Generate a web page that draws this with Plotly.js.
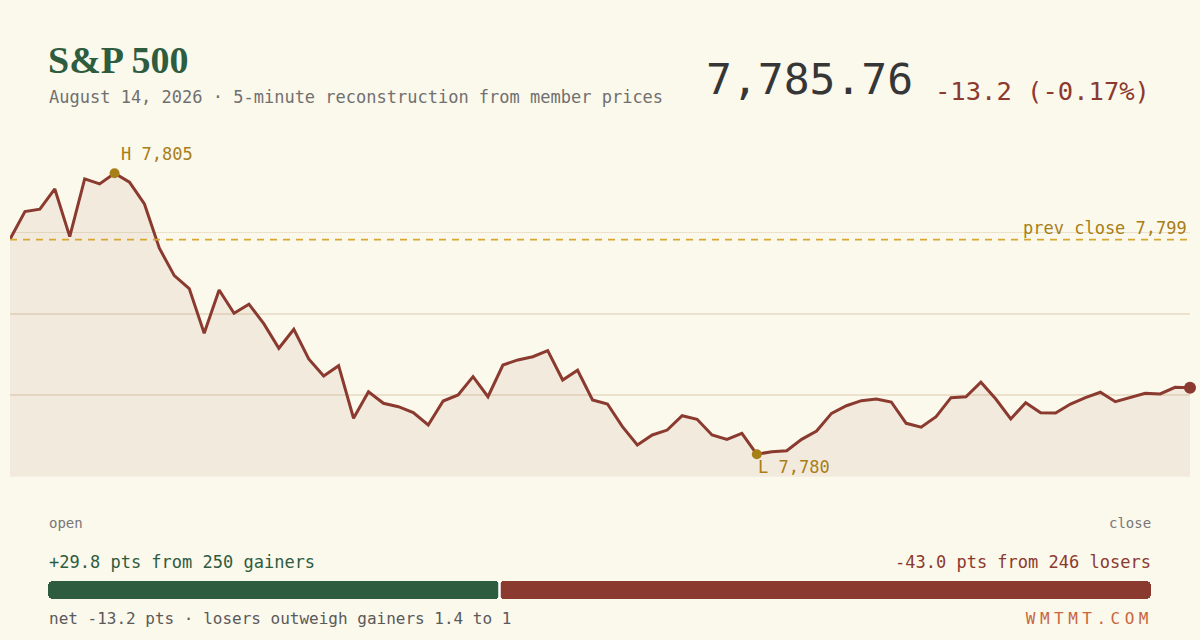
<!DOCTYPE html>
<html>
<head>
<meta charset="utf-8">
<script src="https://cdn.plot.ly/plotly-3.0.1.min.js"></script>
<style>
  html, body { margin: 0; padding: 0; background: #fbf8ec; }
  #chart { width: 1200px; height: 640px; }
</style>
</head>
<body>
<div id="chart"></div>
<script>
// 5-minute index levels
var prices = [
  7799.00, 7801.46, 7801.67, 7803.48, 7799.23, 7804.37, 7803.93, 7804.88, 7804.08, 7802.14,
  7798.19, 7795.75, 7794.59, 7790.61, 7794.47, 7792.39, 7793.20, 7791.44, 7789.27, 7790.97,
  7788.32, 7786.80, 7787.72, 7783.03, 7785.40, 7784.37, 7784.06, 7783.53, 7782.43, 7784.57,
  7785.11, 7786.74, 7784.95, 7787.78, 7788.23, 7788.52, 7789.06, 7786.44, 7787.31, 7784.66,
  7784.30, 7782.28, 7780.65, 7781.54, 7781.98, 7783.26, 7782.94, 7781.54, 7781.15, 7781.69,
  7779.82, 7780.05, 7780.14, 7781.15, 7781.89, 7783.47, 7784.15, 7784.60, 7784.75, 7784.48,
  7782.58, 7782.23, 7783.17, 7784.87, 7784.95, 7786.24, 7784.75, 7782.97, 7784.42, 7783.53,
  7783.50, 7784.30, 7784.87, 7785.35, 7784.51, 7784.90, 7785.26, 7785.20, 7785.79, 7785.76
];
var prevClose = 7798.96;
var gainPts = 29.8;
var lossPts = 43.0;
var gainers = 250;
var losers = 246;
var sessionDate = 'August 14, 2026';

var bg = '#fbf8ec';
var green = '#2e5c3f';
var red = '#8b3a2f';
var gold = '#a87e17';
var mono = '"DejaVu Sans Mono", "Liberation Mono", monospace';

var steps = prices.map(function (p, i) { return i; });
var last = prices[prices.length - 1];
var hi = Math.max.apply(null, prices);
var lo = Math.min.apply(null, prices);
var hiIdx = prices.indexOf(hi);
var loIdx = prices.indexOf(lo);
var yMin = lo - 2, yMax = hi + 2;
var q = (yMax - yMin) / 4;

function fmt0(v) { return Math.round(v).toLocaleString('en-US'); }
function X(px) { return px / 1200; }
function Y(py) { return 1 - py / 640; }

var chg = last - prevClose;
var pct = chg / prevClose * 100;
var net = gainPts - lossPts;

var area = {
  x: steps, y: prices,
  type: 'scatter', mode: 'lines',
  line: {color: red, width: 3},
  fill: 'tozeroy', fillcolor: 'rgba(139,58,47,0.07)',
  hoverinfo: 'skip'
};

var hiLo = {
  x: [hiIdx, loIdx], y: [hi, lo],
  type: 'scatter', mode: 'markers',
  marker: {color: gold, size: 10},
  cliponaxis: false, hoverinfo: 'skip'
};

var lastDot = {
  x: [steps[steps.length - 1]], y: [last],
  type: 'scatter', mode: 'markers',
  marker: {color: red, size: 12},
  cliponaxis: false, hoverinfo: 'skip'
};

// breadth bar: green grows left from the split, red grows right
var gainBar = {
  y: [0], x: [-gainPts], base: [gainPts], width: [1],
  type: 'bar', orientation: 'h',
  xaxis: 'x2', yaxis: 'y2',
  marker: {color: green, cornerradius: 5},
  hoverinfo: 'skip'
};
var lossBar = {
  y: [0], x: [lossPts], base: [gainPts], width: [1],
  type: 'bar', orientation: 'h',
  xaxis: 'x2', yaxis: 'y2',
  marker: {color: red, cornerradius: 5},
  hoverinfo: 'skip'
};

function note(text, px, py, size, color, anchor, extra) {
  var a = {
    text: text, x: X(px), y: Y(py), xref: 'paper', yref: 'paper',
    xanchor: anchor, yanchor: 'middle', showarrow: false,
    font: {family: mono, size: size, color: color}
  };
  for (var k in extra) a[k] = extra[k];
  return a;
}

var annotations = [
  note('<b>S&amp;P 500</b>', 46, 60, 38, green, 'left',
       {font: {family: '"Liberation Serif", "DejaVu Serif", serif', size: 38, color: green}}),
  note(sessionDate + ' · 5-minute reconstruction from member prices', 47, 97, 17, '#707070', 'left'),
  note(last.toLocaleString('en-US', {minimumFractionDigits: 2}), 915, 79, 43, '#363636', 'right'),
  note(chg.toFixed(1) + ' (' + pct.toFixed(2) + '%)', 1152, 91, 25.5, red, 'right'),
  {
    text: 'H ' + fmt0(hi), x: hiIdx, y: hi, xref: 'x', yref: 'y',
    xanchor: 'left', yanchor: 'middle', xshift: 4, yshift: 19, showarrow: false,
    font: {family: mono, size: 17, color: gold}
  },
  {
    text: 'L ' + fmt0(lo), x: loIdx, y: lo, xref: 'x', yref: 'y',
    xanchor: 'left', yanchor: 'middle', xshift: -1, yshift: -13, showarrow: false,
    font: {family: mono, size: 17, color: gold}
  },
  {
    text: 'prev close ' + fmt0(prevClose), x: 1, y: prevClose, xref: 'x domain', yref: 'y',
    xanchor: 'right', yanchor: 'middle', xshift: -1, yshift: 12, showarrow: false,
    font: {family: mono, size: 17, color: gold}
  },
  note('open', 47, 523, 14, '#777777', 'left'),
  note('close', 1153, 523, 14, '#777777', 'right'),
  note('+' + gainPts.toFixed(1) + ' pts from ' + gainers + ' gainers', 47, 562, 17, green, 'left'),
  note('-' + lossPts.toFixed(1) + ' pts from ' + losers + ' losers', 1153, 562, 17, red, 'right'),
  note('net ' + net.toFixed(1) + ' pts · losers outweigh gainers ' + (lossPts / gainPts).toFixed(1) + ' to 1',
       47, 618, 16, '#5a5a5a', 'left'),
  note('WMTMT.COM', 1089, 618, 16, '#c8673d', 'center')
];

var layout = {
  width: 1200, height: 640,
  margin: {l: 0, r: 0, t: 0, b: 0, pad: 0},
  paper_bgcolor: bg, plot_bgcolor: 'rgba(0,0,0,0)',
  showlegend: false,
  barmode: 'overlay', bargap: 0,
  xaxis: {
    domain: [X(10), X(1190)], range: [0, steps.length - 1],
    visible: false, fixedrange: true
  },
  yaxis: {
    domain: [Y(476.7), Y(150.8)], range: [yMin, yMax],
    tickmode: 'array', tickvals: [yMin + q, yMin + 2 * q, yMin + 3 * q],
    showticklabels: false, ticks: '', zeroline: false,
    showgrid: true, gridcolor: '#ebe1cc', gridwidth: 1.5, fixedrange: true
  },
  xaxis2: {
    domain: [X(48), X(1151)], range: [0, gainPts + lossPts],
    anchor: 'y2', visible: false, fixedrange: true
  },
  yaxis2: {
    domain: [Y(599), Y(581)], range: [-0.5, 0.5],
    anchor: 'x2', visible: false, fixedrange: true
  },
  shapes: [
    {
      type: 'line', xref: 'x domain', yref: 'y', x0: 0, x1: 1, y0: prevClose, y1: prevClose,
      line: {color: '#d6a832', width: 1.8, dash: '7px,6px'}, layer: 'above'
    },
    {
      type: 'line', xref: 'x2', yref: 'y2 domain', x0: gainPts, x1: gainPts, y0: 0, y1: 1,
      line: {color: '#ffffff', width: 2.5}, layer: 'above'
    }
  ],
  annotations: annotations
};

Plotly.newPlot('chart', [area, hiLo, lastDot, gainBar, lossBar], layout, {displayModeBar: false, staticPlot: true})
  .then(function () {
    document.querySelectorAll('.annotation-text').forEach(function (t) {
      if (t.textContent === 'WMTMT.COM') t.style.letterSpacing = '4.5px';
    });
  });
</script>
</body>
</html>
